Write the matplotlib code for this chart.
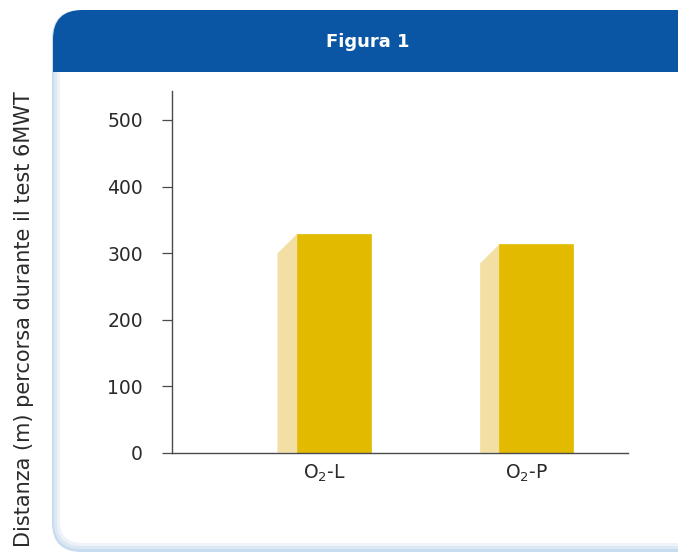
import matplotlib
matplotlib.use("Agg")
import matplotlib.pyplot as plt
from matplotlib.patches import FancyBboxPatch, Rectangle, Polygon

# 6MWT distance per oxygen delivery mode
categories = ["O$_2$-L", "O$_2$-P"]
distance_m = [328, 313]
y_ticks = [0, 100, 200, 300, 400, 500]

BLUE = "#0A56A4"
GOLD = "#E2BB00"
GOLD_SIDE = "#F3DFA3"
AXIS = "#4a4a4a"
TXT = "#2a2a2a"

plt.rcParams["font.family"] = ["DejaVu Sans"]
plt.rcParams["mathtext.fontset"] = "dejavusans"

W, H = 678, 554
fig = plt.figure(figsize=(W / 100, H / 100), dpi=100)
fig.patch.set_facecolor("white")


def px(x0, y0, x1, y1):
    # pixel box with top-left origin -> figure fraction
    return x0 / W, 1 - y1 / H, (x1 - x0) / W, (y1 - y0) / H


def card_box(x0, y0, x1, y1, color, rad, z):
    x, y, w, h = px(x0, y0, x1, y1)
    p = FancyBboxPatch((x, y), w, h, boxstyle=f"round,pad=0,rounding_size={rad / H}",
                       transform=fig.transFigure, facecolor=color, edgecolor="none",
                       zorder=z, mutation_aspect=W / H)
    fig.add_artist(p)


# card with a soft blue rim on the left / bottom
card_box(52, 10, 720, 552, "#c9dbef", 24, -6)
card_box(54, 12, 720, 549, "#dde8f5", 22, -5)
card_box(57, 15, 720, 546, "#eef3fa", 20, -4)
card_box(60, 18, 720, 543, "white", 18, -3)
# header band
card_box(53, 10, 720, 90, BLUE, 24, -2)
x, y, w, h = px(53, 45, 720, 72)
fig.add_artist(Rectangle((x, y), w, h, transform=fig.transFigure,
                         facecolor=BLUE, edgecolor="none", zorder=-2))
x, y, w, h = px(60, 72, 720, 90)
fig.add_artist(Rectangle((x, y), w, h, transform=fig.transFigure,
                         facecolor="white", edgecolor="none", zorder=-2))
for xa, xb, c in [(52, 54, "#c9dbef"), (54, 57, "#dde8f5"), (57, 60, "#eef3fa")]:
    x, y, w, h = px(xa, 72, xb, 90)
    fig.add_artist(Rectangle((x, y), w, h, transform=fig.transFigure,
                             facecolor=c, edgecolor="none", zorder=-2))

fig.text(368 / W, 1 - 42 / H, "Figura 1", color="white", fontsize=13,
         fontweight="bold", ha="center", va="center")

ax = fig.add_axes([172 / W, 1 - 452.7 / H, (628 - 172) / W, (452.7 - 90.7) / H])
ax.set_zorder(2)
ax.patch.set_visible(False)

pos = [1, 2]
face_off, face_w = 0.047, 0.365
depth_x, depth_y = 0.094, 28.5

for p, v in zip(pos, distance_m):
    left = p + face_off - face_w / 2
    ax.bar(left, v, width=face_w, align="edge", color=GOLD, edgecolor=GOLD,
           linewidth=0.5, zorder=3)
    # slanted side face, tucked slightly under the front face
    ax.add_patch(Polygon([(left - depth_x, 0), (left - depth_x, v - depth_y),
                          (left, v), (left + 0.01, v), (left + 0.01, 0)], closed=True,
                         facecolor=GOLD_SIDE, edgecolor="none", zorder=2))

ax.set_xlim(0.25, 2.5)
ax.set_ylim(0, 544)
ax.set_yticks(y_ticks)
ax.set_xticks(pos)
ax.set_xticklabels(categories)

for s in ["top", "right"]:
    ax.spines[s].set_visible(False)
for s in ["left", "bottom"]:
    ax.spines[s].set_color(AXIS)
    ax.spines[s].set_linewidth(1.0)
    ax.spines[s].set_zorder(4)

ax.tick_params(axis="y", length=7, width=0.9, color=AXIS, pad=14,
               labelsize=13.5, labelcolor=TXT)
ax.tick_params(axis="x", length=0, pad=7, labelsize=13.5, labelcolor=TXT)

fig.text(24 / W, 1 - 319 / H, "Distanza (m) percorsa durante il test 6MWT",
         rotation=90, ha="center", va="center", fontsize=15, color=TXT)

fig.savefig("out.png", dpi=100)
